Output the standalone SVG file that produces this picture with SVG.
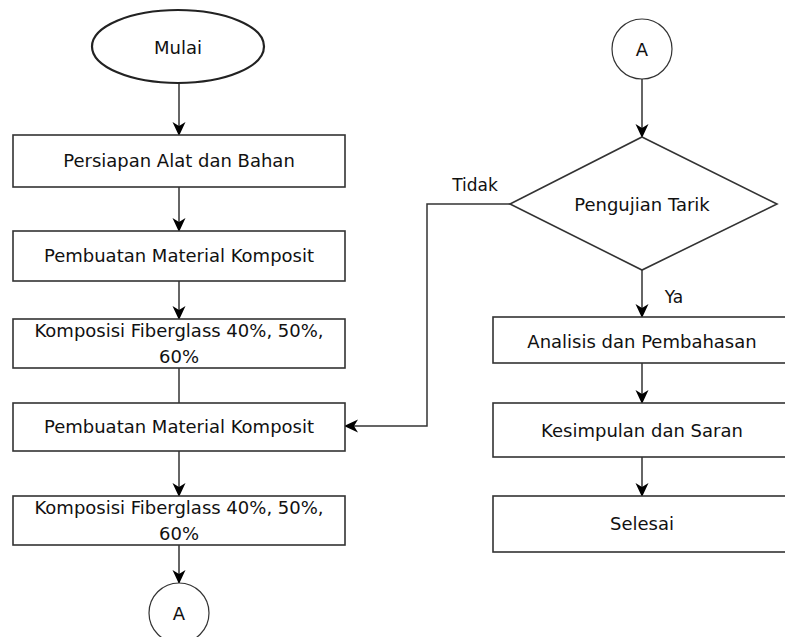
<svg xmlns="http://www.w3.org/2000/svg" width="785" height="637" viewBox="0 0 785 637">
<defs>
<marker id="arr" markerUnits="userSpaceOnUse" markerWidth="14" markerHeight="14" viewBox="0 0 14 14" refX="13" refY="7" orient="auto">
<path d="M0,0.5 L14,7 L0,13.5 L4,7 z" fill="#000"/>
</marker>
<style>
.box{fill:#fff;stroke:#333;stroke-width:1.6}
.term{fill:#fff;stroke:#222;stroke-width:2.2}
.con{fill:#fff;stroke:#333;stroke-width:1.2}
.ln{fill:none;stroke:#333;stroke-width:1.5}
text{font-family:"DejaVu Sans","Liberation Sans",sans-serif;font-size:18px;fill:#111;text-anchor:middle}
.lbl{font-size:17px}
</style>
</defs>
<rect width="785" height="637" fill="#fff"/>
<g id="connectors">
<line class="ln" x1="179" y1="83" x2="179" y2="135" marker-end="url(#arr)"/>
<line class="ln" x1="179" y1="187" x2="179" y2="231" marker-end="url(#arr)"/>
<line class="ln" x1="179" y1="281" x2="179" y2="319" marker-end="url(#arr)"/>
<line class="ln" x1="179" y1="368" x2="179" y2="403"/>
<line class="ln" x1="179" y1="451" x2="179" y2="496" marker-end="url(#arr)"/>
<line class="ln" x1="179" y1="545" x2="179" y2="583" marker-end="url(#arr)"/>
<line class="ln" x1="642" y1="79" x2="642" y2="137" marker-end="url(#arr)"/>
<line class="ln" x1="642" y1="270" x2="642" y2="317" marker-end="url(#arr)"/>
<line class="ln" x1="642" y1="363" x2="642" y2="403" marker-end="url(#arr)"/>
<line class="ln" x1="642" y1="457" x2="642" y2="496" marker-end="url(#arr)"/>
<polyline class="ln" points="510,204 427,204 427,426 345,426" marker-end="url(#arr)"/>
<text class="lbl" x="475" y="191">Tidak</text>
<text class="lbl" x="674" y="303">Ya</text>
</g>
<g id="mulai">
<ellipse class="term" cx="178" cy="46.5" rx="86" ry="36.5"/>
<text x="178" y="54">Mulai</text>
</g>
<g id="persiapan">
<rect class="box" x="13" y="135" width="332" height="52"/>
<text x="179" y="167">Persiapan Alat dan Bahan</text>
</g>
<g id="pembuatan1">
<rect class="box" x="13" y="231" width="332" height="50"/>
<text x="179" y="262">Pembuatan Material Komposit</text>
</g>
<g id="komposisi1">
<rect class="box" x="13" y="319" width="332" height="49"/>
<text x="179" y="336.5">Komposisi Fiberglass 40%, 50%,</text>
<text x="179" y="363">60%</text>
</g>
<g id="pembuatan2">
<rect class="box" x="13" y="403" width="332" height="48"/>
<text x="179" y="433">Pembuatan Material Komposit</text>
</g>
<g id="komposisi2">
<rect class="box" x="13" y="496" width="332" height="49"/>
<text x="179" y="513.5">Komposisi Fiberglass 40%, 50%,</text>
<text x="179" y="539.5">60%</text>
</g>
<g id="connA1">
<circle class="con" cx="179" cy="613" r="30"/>
<text x="179" y="619.5">A</text>
</g>
<g id="connA2">
<circle class="con" cx="642" cy="49" r="30"/>
<text x="642" y="55.5">A</text>
</g>
<g id="pengujian">
<polygon class="box" points="642,137 777,204 642,270 510,204"/>
<text x="642" y="210.5">Pengujian Tarik</text>
</g>
<g id="analisis">
<rect class="box" x="493" y="317" width="298" height="46"/>
<text x="642" y="348">Analisis dan Pembahasan</text>
</g>
<g id="kesimpulan">
<rect class="box" x="493" y="403" width="298" height="54"/>
<text x="642" y="436.5">Kesimpulan dan Saran</text>
</g>
<g id="selesai">
<rect class="box" x="493" y="496" width="298" height="56"/>
<text x="642" y="529.5">Selesai</text>
</g>
</svg>
